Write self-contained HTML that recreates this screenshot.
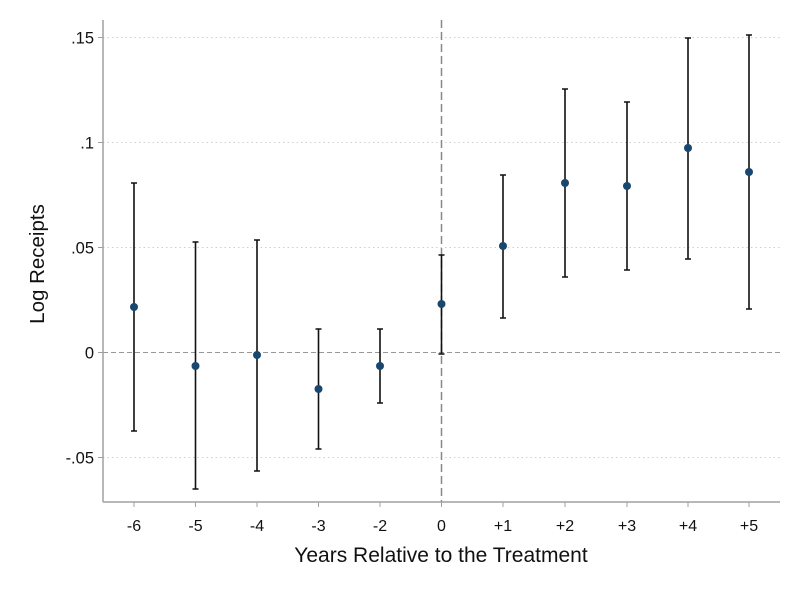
<!DOCTYPE html>
<html><head><style>body{margin:0;background:#fff}svg{display:block}</style></head>
<body>
<svg width="800" height="600" xmlns="http://www.w3.org/2000/svg" font-family="Liberation Sans, Arial, sans-serif">
<rect width="800" height="600" fill="#fff"/>
<g stroke="#cfcfcf" stroke-width="1" stroke-dasharray="1.5,3">
<line x1="103" x2="780" y1="37.5" y2="37.5"/>
<line x1="103" x2="780" y1="142.5" y2="142.5"/>
<line x1="103" x2="780" y1="247.5" y2="247.5"/>
<line x1="103" x2="780" y1="457.5" y2="457.5"/>
</g>
<line x1="103" x2="780" y1="352.5" y2="352.5" stroke="#999" stroke-dasharray="5,3"/>
<line x1="441.5" x2="441.5" y1="20" y2="502" stroke="#888" stroke-width="1.5" stroke-dasharray="8,4"/>
<g stroke="#a0a0a0" stroke-width="1.5">
<line x1="103" x2="103" y1="20" y2="502"/>
<line x1="103" x2="780" y1="502" y2="502"/>
</g>
<g stroke="#a0a0a0" stroke-width="1">
<line x1="98" x2="103" y1="37.5" y2="37.5"/><line x1="98" x2="103" y1="142.5" y2="142.5"/>
<line x1="98" x2="103" y1="247.5" y2="247.5"/><line x1="98" x2="103" y1="352.5" y2="352.5"/>
<line x1="98" x2="103" y1="457.5" y2="457.5"/>
<line x1="134" x2="134" y1="502" y2="507"/><line x1="195.5" x2="195.5" y1="502" y2="507"/>
<line x1="257" x2="257" y1="502" y2="507"/><line x1="318.5" x2="318.5" y1="502" y2="507"/>
<line x1="380" x2="380" y1="502" y2="507"/><line x1="441.5" x2="441.5" y1="502" y2="507"/>
<line x1="503" x2="503" y1="502" y2="507"/><line x1="565" x2="565" y1="502" y2="507"/>
<line x1="627" x2="627" y1="502" y2="507"/><line x1="688" x2="688" y1="502" y2="507"/>
<line x1="749" x2="749" y1="502" y2="507"/>
</g>
<g font-size="16.5" fill="#111" text-anchor="end">
<text x="94" y="43.5">.15</text><text x="94" y="148.5">.1</text><text x="94" y="253.5">.05</text>
<text x="94" y="358.5">0</text><text x="94" y="463.5">-.05</text>
</g>
<g font-size="16" fill="#111" text-anchor="middle">
<text x="134" y="531">-6</text><text x="195.5" y="531">-5</text><text x="257" y="531">-4</text>
<text x="318.5" y="531">-3</text><text x="380" y="531">-2</text><text x="441.5" y="531">0</text>
<text x="503" y="531">+1</text><text x="565" y="531">+2</text><text x="627" y="531">+3</text>
<text x="688" y="531">+4</text><text x="749" y="531">+5</text>
<text x="441" y="562" font-size="21">Years Relative to the Treatment</text>
<text transform="translate(44,264) rotate(-90)" font-size="20.5">Log Receipts</text>
</g>
<g stroke="#111" stroke-width="1.6">
<path d="M134 183V431M131 183h6M131 431h6"/>
<path d="M195.5 242V489M192.5 242h6M192.5 489h6"/>
<path d="M257 240V471M254 240h6M254 471h6"/>
<path d="M318.5 329V449M315.5 329h6M315.5 449h6"/>
<path d="M380 329V403M377 329h6M377 403h6"/>
<path d="M441.5 255V354M438.5 255h6M438.5 354h6"/>
<path d="M503 175V318M500 175h6M500 318h6"/>
<path d="M565 89V277M562 89h6M562 277h6"/>
<path d="M627 102V270M624 102h6M624 270h6"/>
<path d="M688 38V259M685 38h6M685 259h6"/>
<path d="M749 35V309M746 35h6M746 309h6"/>
</g>
<g fill="#1a476f">
<circle cx="134" cy="307" r="4"/><circle cx="195.5" cy="366" r="4"/><circle cx="257" cy="355" r="4"/>
<circle cx="318.5" cy="389" r="4"/><circle cx="380" cy="366" r="4"/><circle cx="441.5" cy="304" r="4"/>
<circle cx="503" cy="246" r="4"/><circle cx="565" cy="183" r="4"/><circle cx="627" cy="186" r="4"/>
<circle cx="688" cy="148" r="4"/><circle cx="749" cy="172" r="4"/>
</g>
</svg>
</body></html>
